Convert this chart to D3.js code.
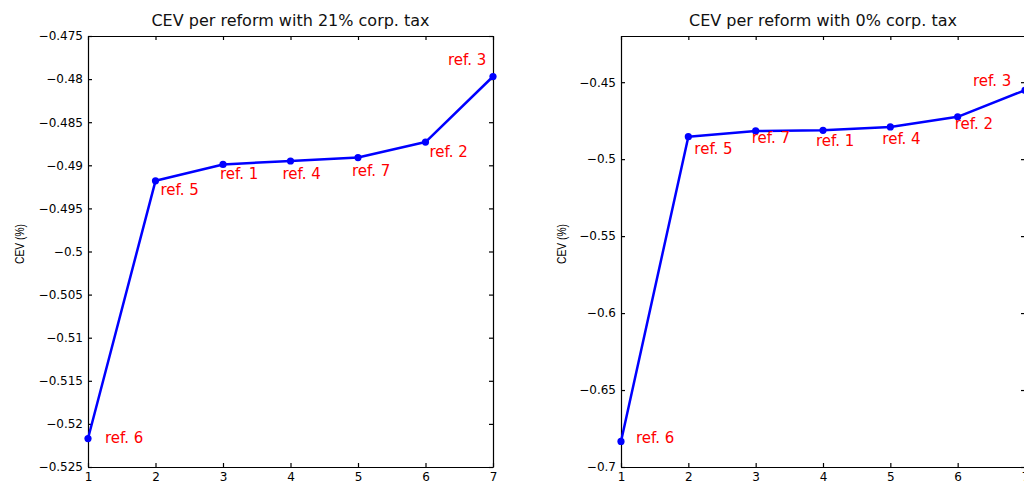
<script src="https://d3js.org/d3.v7.min.js"></script>

<style>
body{ margin:0; background:#fff; }
svg{ font-family:"DejaVu Sans", sans-serif; }
.tick line{ stroke:#000; stroke-width:1.2; }
.domain{ stroke:#000; stroke-width:1.2; }
.tick text{ font-size:12px; fill:#000; }
</style>

<div id="chart"></div>

<script>
// reform index on the x axis
const reforms = [1, 2, 3, 4, 5, 6, 7];

// CEV (%) per reform, 21% corp. tax
const cev21 = [-0.5217, -0.4918, -0.4899, -0.4895, -0.4891, -0.4873, -0.4797];
const refs21 = ["ref. 6", "ref. 5", "ref. 1", "ref. 4", "ref. 7", "ref. 2", "ref. 3"];
const yTicks21 = [-0.525, -0.52, -0.515, -0.51, -0.505, -0.5, -0.495, -0.49, -0.485, -0.48, -0.475];
const yDomain21 = [-0.525, -0.475];

// CEV (%) per reform, 0% corp. tax
const cev0 = [-0.6834, -0.4854, -0.4817, -0.4813, -0.4791, -0.4725, -0.4552];
const refs0 = ["ref. 6", "ref. 5", "ref. 7", "ref. 1", "ref. 4", "ref. 2", "ref. 3"];
const yTicks0 = [-0.7, -0.65, -0.6, -0.55, -0.5, -0.45];
const yDomain0 = [-0.7, -0.42];

const titles = ["CEV per reform with 21% corp. tax", "CEV per reform with 0% corp. tax"];
const yLabel = "CEV (%)";

// pixel nudges for the point labels (dx, dy from the marker)
const offsets21 = [[17,-1],[5,9],[-3,10],[-8,13],[-6,13],[4,10],[-45,-17]];
const offsets0 = [[15,-3],[6,12],[-4,7],[-7,11],[-8,12],[-3,7],[-52,-9]];

let svg = d3.select("#chart").append("svg")
  .attr("width", 1024)
  .attr("height", 481);

let fmt = v => String(+v.toFixed(3)).replace("-", "\u2212");

function panel(opts){
  let x = d3.scaleLinear().domain([1, 7]).range([opts.left, opts.right]);
  let y = d3.scaleLinear().domain(opts.domain).range([467, 36]);

  // axes box with inward ticks on all sides
  svg.append("g")
    .attr("transform", "translate(0,467)")
    .call(d3.axisBottom(x).tickValues(reforms).tickSize(-4).tickSizeOuter(0).tickPadding(5).tickFormat(d3.format("d")));
  svg.append("g")
    .attr("transform", "translate(0,36)")
    .call(d3.axisTop(x).tickValues(reforms).tickSize(-4).tickSizeOuter(0).tickFormat(""));
  svg.append("g")
    .attr("transform", "translate(" + opts.left + ",0)")
    .call(d3.axisLeft(y).tickValues(opts.ticks).tickSize(-4).tickSizeOuter(0).tickPadding(5).tickFormat(fmt));
  svg.append("g")
    .attr("transform", "translate(" + opts.right + ",0)")
    .call(d3.axisRight(y).tickValues(opts.ticks).tickSize(-4).tickSizeOuter(0).tickFormat(""));

  svg.selectAll(".tick text").attr("font-family", "DejaVu Sans");

  // title
  svg.append("text")
    .attr("x", (opts.left + opts.right) / 2)
    .attr("y", 26)
    .attr("text-anchor", "middle")
    .attr("font-size", "16px")
    .attr("fill", "#111")
    .text(opts.title);

  // y label
  svg.append("text")
    .attr("transform", "translate(" + opts.labelX + ",244) rotate(-90)")
    .attr("text-anchor", "middle")
    .attr("dominant-baseline", "central")
    .attr("font-family", "Liberation Sans, Arial, sans-serif")
    .attr("font-size", "13px")
    .attr("textLength", 40)
    .attr("lengthAdjust", "spacingAndGlyphs")
    .text(yLabel);

  let pts = reforms.map((r, i) => ({x: r, y: opts.values[i], ref: opts.refs[i], off: opts.offsets[i]}));

  svg.append("path")
    .datum(pts)
    .attr("fill", "none")
    .attr("stroke", "#0000ff")
    .attr("stroke-width", 2.5)
    .attr("stroke-linejoin", "round")
    .attr("d", d3.line().x(d => x(d.x)).y(d => y(d.y)));

  svg.selectAll(null)
    .data(pts)
    .enter().append("circle")
    .attr("cx", d => x(d.x))
    .attr("cy", d => y(d.y))
    .attr("r", 3.6)
    .attr("fill", "#0000ff");

  svg.selectAll(null)
    .data(pts)
    .enter().append("text")
    .attr("x", d => x(d.x) + d.off[0])
    .attr("y", d => y(d.y) + d.off[1])
    .attr("dominant-baseline", "central")
    .attr("font-size", "15px")
    .attr("fill", "#ff0000")
    .text(d => d.ref);
}

panel({left: 88, right: 493, domain: yDomain21, ticks: yTicks21, values: cev21, refs: refs21, offsets: offsets21, title: titles[0], labelX: 19});
panel({left: 621, right: 1025, domain: yDomain0, ticks: yTicks0, values: cev0, refs: refs0, offsets: offsets0, title: titles[1], labelX: 561});
</script>
